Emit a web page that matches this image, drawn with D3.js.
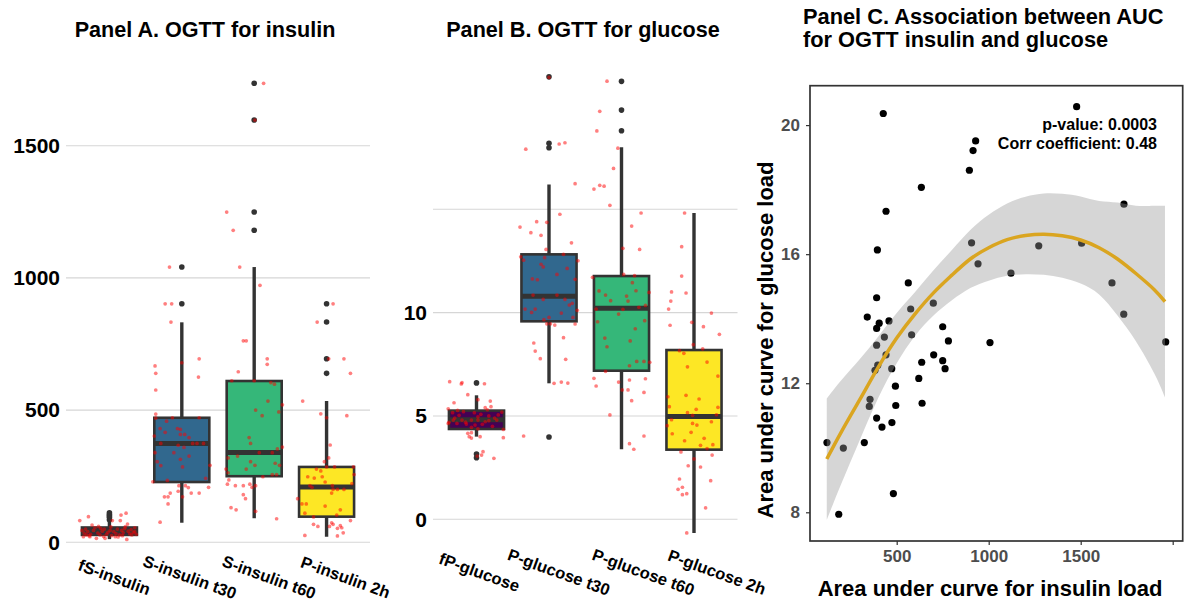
<!DOCTYPE html>
<html>
<head>
<meta charset="utf-8">
<script src="https://cdn.jsdelivr.net/npm/d3@7"></script>
<style>
  body { margin: 0; background: #fff; }
  svg text { font-family: "Liberation Sans", Arial, sans-serif; font-weight: bold; }
</style>
</head>
<body>
<svg id="chart"></svg>
<script>
const width = 1191, height = 603;

// ---------- Panel A: OGTT insulin ----------
const insulinGroups = ["fS-insulin", "S-insulin t30", "S-insulin t60", "P-insulin 2h"];
// [lower whisker, q1, median, q3, upper whisker]
const insulinBox = [
  [12, 28, 43, 56, 78],
  [74, 228, 374, 471, 832],
  [91, 250, 340, 610, 1041],
  [21, 97, 209, 285, 534]
];
const insulinOutliers = [
  [85, 95, 100, 105, 112],
  [902, 1041],
  [1180, 1249, 1597, 1736],
  [639, 694, 833, 902]
];
// jittered raw values: [offset in band steps, value]
const insulinPoints = [
  [[-0.41,82],[-0.29,97],[-0.24,65],[0.16,103],[0.23,110],[0.04,82],[0.15,82],[0.25,69],[0.22,59],
   [-0.36,21],[-0.27,21],[-0.18,15],[-0.06,15],[0.08,21],[0.24,11],[0.31,28],[0.35,40],[-0.12,53],
   [-0.38,45],[-0.35,35],[-0.33,50],[-0.3,40],[-0.26,30],[-0.22,45],[-0.2,55],[-0.16,35],[-0.13,28],
   [-0.1,42],[-0.07,50],[-0.04,30],[-0.02,38],[0.01,45],[0.03,25],[0.06,40],[0.09,33],[0.11,50],
   [0.14,28],[0.17,45],[0.19,36],[0.21,52],[0.26,42],[0.28,32],[0.3,48],[0.33,38],[0.37,30],
   [-0.28,25],[-0.08,22],[0.12,20],[0.02,58],[-0.15,60],[0.18,25],[-0.32,28],[0.35,55]],
  [[-0.37,667],[-0.36,639],[-0.36,576],[0,679],[0.24,694],[0.23,625],[-0.36,485],[-0.36,470],[-0.13,471],
   [0.24,471],[-0.3,430],[-0.21,458],[-0.23,416],[-0.06,430],[-0.02,427],[-0.02,408],[0.04,408],[0.1,396],
   [-0.38,402],[-0.29,374],[-0.05,367],[0.03,359],[0.15,374],[0.21,374],[0.3,374],[-0.37,339],[-0.11,339],
   [0.1,326],[-0.34,305],[-0.02,314],[-0.29,290],[0.01,285],[0.39,291],[-0.4,229],[-0.2,234],[0.33,242],
   [-0.04,214],[0.05,214],[0.09,207],[0.37,208],[-0.16,186],[-0.05,193],[0.13,186],[0.24,186],[-0.24,172],
   [-0.19,172],[0.01,172],[-0.19,145],[-0.3,76],[-0.17,1041],[-0.23,902],[-0.14,902],[-0.15,833]],
  [[-0.15,762],[-0.11,762],[0.18,694],[0.18,673],[-0.22,645],[-0.31,611],[0,611],[0.23,604],[0.28,598],
   [0.19,534],[0.39,520],[0.02,500],[0.34,493],[0.11,479],[-0.07,396],[-0.05,374],[0.32,353],[0.39,360],
   [-0.23,326],[0.07,339],[0.25,339],[-0.36,319],[-0.05,305],[0.01,291],[0.29,299],[0.35,291],[-0.39,277],
   [-0.11,277],[-0.36,263],[0.25,256],[0.31,256],[0.12,248],[-0.35,236],[-0.37,220],[-0.26,214],[-0.15,214],
   [-0.06,220],[-0.03,208],[0.02,214],[-0.15,180],[-0.12,165],[-0.32,131],[-0.25,123],[0.02,117],[0.31,89],
   [-0.38,1249],[-0.29,1180],[-0.2,1041],[0.08,972],[0.13,1736],[0.01,1597]],
  [[0.03,694],[0.24,694],[0.33,639],[-0.33,534],[-0.08,486],[0,471],[0.28,479],[0.05,368],[0.03,319],
   [-0.03,305],[0,285],[0.11,285],[0.37,285],[-0.14,277],[-0.08,270],[0.38,256],[-0.26,248],[-0.17,243],
   [-0.06,248],[-0.02,228],[0.35,222],[-0.23,214],[-0.2,208],[0.08,214],[0.09,200],[0.15,200],[0.24,200],
   [0.07,186],[-0.4,165],[-0.34,145],[-0.28,145],[-0.02,137],[0.19,123],[-0.3,110],[-0.18,96],[0.14,103],
   [0.33,82],[-0.18,68],[-0.12,60],[0.07,74],[0.09,68],[0.04,60],[0.19,63],[0.21,55],[0.15,53],[0.23,36],
   [-0.3,26],[0.15,24],[0.09,902],[-0.13,833]]
];
const insulinGrid = [0, 500, 1000, 1500];
const insulinTicks = [0, 500, 1000, 1500];

// ---------- Panel B: OGTT glucose ----------
const glucoseGroups = ["fP-glucose", "P-glucose t30", "P-glucose t60", "P-glucose 2h"];
const glucoseBox = [
  [4.0, 4.37, 4.82, 5.26, 6.0],
  [6.58, 9.58, 10.79, 12.82, 16.2],
  [3.39, 7.19, 10.21, 11.77, 18.0],
  [-0.66, 3.37, 4.98, 8.19, 14.82]
];
const glucoseOutliers = [
  [6.6, 3.16, 2.98],
  [21.41, 18.19, 17.98, 3.98],
  [21.19, 19.8, 18.8],
  []
];
const glucosePoints = [
  [[-0.37,6.66],[-0.21,6.55],[-0.2,6.61],[0.11,6.56],[-0.12,6.03],[-0.31,5.64],[0.02,5.79],[0.19,5.72],
   [0.12,5.4],[0.2,5.45],[0.15,5.3],[-0.39,5.35],[-0.26,5.27],[-0.18,5.21],[-0.33,5.16],[-0.24,5.03],
   [-0.03,5.16],[0.06,5.08],[0.02,4.96],[0.17,5.0],[0.35,5.19],[-0.32,4.8],[-0.2,4.8],[-0.07,4.8],[0.02,4.8],
   [0.12,4.72],[0.17,4.77],[0.28,4.8],[-0.39,4.64],[-0.27,4.64],[-0.14,4.61],[-0.38,4.69],[-0.02,4.56],
   [-0.07,4.45],[0.02,4.38],[0.37,4.35],[-0.12,4.16],[-0.07,4.19],[-0.1,4.0],[-0.07,3.93],[0.05,4.0],
   [0.37,3.95],[0.09,3.27],[0.07,3.11],[0.24,2.95],[0.01,3.06],[-0.3,4.9],[0.25,4.9],[0.3,5.05],
   [-0.15,4.7],[0.08,4.6],[0.22,4.5]],
  [[0,21.38],[-0.32,17.91],[0.14,18.16],[0.22,18.22],[0.36,16.24],[0.15,14.76],[-0.4,14.14],[-0.17,14.4],
   [-0.03,14.37],[-0.25,13.87],[-0.11,13.74],[0.31,13.38],[-0.04,13.06],[0.2,12.82],[-0.39,12.7],[-0.06,12.66],
   [-0.35,12.54],[0.4,12.51],[-0.11,12.34],[-0.08,12.21],[0.25,12.14],[0.11,11.85],[-0.23,11.63],[-0.16,11.59],
   [0.36,11.61],[-0.22,10.85],[0.11,10.85],[-0.08,10.64],[0.22,10.64],[-0.33,10.17],[-0.19,10.17],[-0.24,10.01],
   [0.17,9.98],[0.28,10.37],[0.32,10.45],[0.39,10.11],[0,9.77],[-0.07,9.66],[0.33,9.77],[-0.03,9.46],[0.02,9.46],
   [0.08,9.4],[0.36,9.45],[-0.21,8.53],[0.2,8.79],[-0.19,8.14],[-0.12,7.77],[0.23,7.74],[0.07,6.58],[0.17,6.64],
   [0.26,6.59],[-0.35,4.03]],
  [[-0.2,21.2],[-0.3,19.74],[-0.34,18.79],[-0.05,17.96],[-0.11,16.98],[-0.38,15.98],[-0.3,16.16],[-0.24,16.12],
   [-0.16,15.19],[0.27,14.82],[0.14,14.19],[0.02,13.11],[0.25,13.06],[0.03,11.85],[0.18,11.79],[-0.4,11.71],
   [0.15,11.45],[-0.31,11.05],[0.2,11.06],[0.38,10.98],[-0.22,10.85],[0.07,10.8],[0.09,10.56],[-0.15,10.58],
   [0.33,10.35],[-0.35,10.17],[0.02,10.16],[0.24,10.26],[-0.04,9.93],[-0.33,9.56],[0.32,9.61],[0.19,9.22],
   [-0.23,8.77],[0.12,8.63],[-0.2,8.35],[0.21,7.64],[0.31,7.64],[0.39,7.6],[0.11,7.43],[-0.22,7.16],
   [-0.38,6.82],[0.11,6.74],[0.33,6.8],[-0.35,6.45],[-0.04,6.64],[0.01,6.26],[0.09,6.26],[0.31,6.14],
   [0.14,5.74],[-0.16,5.05],[0.31,4.03],[0.11,3.66],[0.17,3.39]],
  [[-0.13,14.82],[-0.17,13.19],[-0.17,11.77],[-0.31,11.0],[-0.11,10.95],[-0.32,10.56],[-0.35,10.17],[0.24,9.98],
   [-0.03,9.53],[0.13,9.32],[-0.33,9.39],[0.35,8.95],[-0.01,8.45],[0.12,8.25],[-0.2,8.16],[-0.14,8.03],
   [0.18,7.61],[-0.09,7.38],[0.33,6.93],[-0.36,5.93],[-0.11,6.0],[0.07,5.82],[-0.34,5.45],[0.03,5.32],
   [0.33,5.42],[-0.09,5.16],[-0.02,5.03],[0.31,5.06],[-0.31,4.82],[-0.37,4.53],[-0.02,4.64],[0.04,4.56],
   [0.24,4.72],[-0.3,4.14],[-0.04,4.21],[0.14,3.92],[-0.13,3.8],[0.09,3.58],[0.26,3.61],[0.18,3.42],
   [-0.18,3.26],[0.25,3.11],[0,2.92],[-0.08,2.59],[0.09,2.53],[-0.2,1.95],[0.23,1.87],[-0.16,1.55],
   [-0.22,1.45],[-0.1,1.24],[-0.16,1.19],[0.16,0.55],[-0.1,-0.66]]
];
const glucoseGrid = [0, 5, 10, 15];
const glucoseTicks = [0, 5, 10];

// ---------- Panel C: AUC association ----------
const aucInsulin = [427,1478,929,915,895,634,442,1735,395,907,1272,1505,942,1121,1670,563,391,576,699,1734,
  340,405,391,458,750,433,581,781,391,1007,1962,442,701,636,750,397,382,473,763,620,493,355,351,495,638,
  391,474,420,121,324,210,482,185];
const aucGlucose = [20.36,20.57,19.51,19.21,18.6,18.07,17.33,17.55,16.13,16.35,16.26,16.34,15.7,15.41,15.11,15.11,
  14.65,14.3,14.48,14.14,14.05,13.86,13.7,13.93,13.75,13.43,13.5,13.31,13.18,13.26,13.28,12.88,12.88,12.65,12.7,
  12.56,12.4,12.45,12.45,12.15,11.91,11.5,11.28,11.31,11.38,10.92,10.78,10.64,10.16,10.16,9.99,8.58,7.94];
// smoothed fit with confidence band
const fitX  = [120,200,300,400,500,600,700,800,900,1000,1100,1200,1300,1400,1500,1600,1700,1800,1900,1958];
const fitY  = [9.65,10.5,11.5,12.5,13.4,14.15,14.8,15.35,15.85,16.2,16.45,16.58,16.62,16.57,16.44,16.2,15.85,15.4,14.9,14.53];
const fitLo = [7.77,8.9,10.25,11.55,12.62,13.47,14.1,14.57,14.95,15.18,15.33,15.38,15.36,15.27,15.09,14.75,14.1,13.3,12.3,11.56];
const fitHi = [11.53,12.1,12.75,13.45,14.18,14.83,15.5,16.13,16.75,17.22,17.57,17.78,17.88,17.87,17.79,17.65,17.6,17.5,17.5,17.5];
const aucXTicks = [500, 1000, 1500, 2000];
const aucYTicks = [8, 12, 16, 20];

const boxColors = ["#440154", "#31688E", "#35B779", "#FDE725"];

const svg = d3.select("#chart")
  .attr("width", width)
  .attr("height", height)
  .style("background", "#fff");

const font = "Liberation Sans, Arial, sans-serif";

// Boxplot panel helper (A and B share the layout)
function boxPanel(opt) {
  const g = svg.append("g");
  const x = opt.x, y = opt.y;
  const step = x.step();
  const bw = step * 0.76;
  const [x0, x1] = x.range();

  // gridlines
  g.selectAll("line.grid")
    .data(opt.grid)
    .join("line")
    .attr("class", "grid")
    .attr("x1", x0).attr("x2", x1)
    .attr("y1", d => y(d)).attr("y2", d => y(d))
    .attr("stroke", "#d6d6d6")
    .attr("stroke-width", 1.1);

  // y tick labels
  g.append("g")
    .attr("transform", `translate(${x0},0)`)
    .call(d3.axisLeft(y).tickValues(opt.ticks).tickSize(0).tickPadding(6).tickFormat(d3.format("d")))
    .call(a => a.select(".domain").remove())
    .attr("font-family", font)
    .attr("font-size", 21)
    .attr("font-weight", "bold")
    .style("color", "#000");

  // boxes
  const grp = g.selectAll("g.box")
    .data(opt.groups.map((name, i) => ({ name, i, s: opt.box[i], out: opt.outliers[i] })))
    .join("g")
    .attr("class", "box");

  grp.append("line")
    .attr("x1", d => x(d.name)).attr("x2", d => x(d.name))
    .attr("y1", d => y(d.s[0])).attr("y2", d => y(d.s[4]))
    .attr("stroke", "#333").attr("stroke-width", 3.4);

  grp.append("rect")
    .attr("x", d => x(d.name) - bw / 2)
    .attr("y", d => y(d.s[3]))
    .attr("width", bw)
    .attr("height", d => y(d.s[1]) - y(d.s[3]))
    .attr("fill", d => boxColors[d.i])
    .attr("stroke", "#333")
    .attr("stroke-width", 2.6);

  grp.append("line")
    .attr("x1", d => x(d.name) - bw / 2).attr("x2", d => x(d.name) + bw / 2)
    .attr("y1", d => y(d.s[2])).attr("y2", d => y(d.s[2]))
    .attr("stroke", "#333").attr("stroke-width", 5);

  grp.selectAll("circle.out")
    .data(d => d.out.map(v => ({ name: d.name, v })))
    .join("circle")
    .attr("class", "out")
    .attr("cx", d => x(d.name))
    .attr("cy", d => y(d.v))
    .attr("r", 2.8)
    .attr("fill", "#333");

  // jittered raw points on top
  const pts = [];
  opt.points.forEach((arr, i) => arr.forEach(p => pts.push({ name: opt.groups[i], dx: p[0], v: p[1] })));
  g.selectAll("circle.pt")
    .data(pts)
    .join("circle")
    .attr("class", "pt")
    .attr("cx", d => x(d.name) + d.dx * step)
    .attr("cy", d => y(d.v))
    .attr("r", 1.85)
    .attr("fill", "red")
    .attr("fill-opacity", 0.5);

  // category labels, slanted
  g.selectAll("text.cat")
    .data(opt.groups)
    .join("text")
    .attr("class", "cat")
    .attr("transform", (d, i) => `translate(${x(d) + opt.nudge[i]},${opt.labelY}) rotate(20)`)
    .attr("text-anchor", "middle")
    .attr("dominant-baseline", "central")
    .attr("font-size", 16.5)
    .attr("fill", "#000")
    .text(d => d);

  // title
  g.append("text")
    .attr("x", opt.titleX)
    .attr("y", 37)
    .attr("text-anchor", "middle")
    .attr("font-size", 21.6)
    .attr("fill", "#000")
    .text(opt.title);
}

const xA = d3.scalePoint().domain(insulinGroups).range([66, 370]).padding(0.6);
const yA = d3.scaleLinear().domain([0, 1500]).range([542.3, 145.7]);
boxPanel({
  x: xA, y: yA, groups: insulinGroups, box: insulinBox, outliers: insulinOutliers,
  points: insulinPoints, grid: insulinGrid, ticks: insulinTicks,
  nudge: [5, 8, 15, 19], labelY: 577,
  title: "Panel A. OGTT for insulin", titleX: 205
});

const xB = d3.scalePoint().domain(glucoseGroups).range([433, 737.5]).padding(0.6);
const yB = d3.scaleLinear().domain([0, 15]).range([519.3, 209.3]);
boxPanel({
  x: xB, y: yB, groups: glucoseGroups, box: glucoseBox, outliers: glucoseOutliers,
  points: glucosePoints, grid: glucoseGrid, ticks: glucoseTicks,
  nudge: [3, 10, 22, 23], labelY: 572,
  title: "Panel B. OGTT for glucose", titleX: 583
});

// ---------- Panel C ----------
const xC = d3.scaleLinear().domain([500, 1500]).range([896.7, 1080.7]);
const yC = d3.scaleLinear().domain([8, 20]).range([512.3, 125.1]);
const pc = { left: 810, right: 1182.7, top: 85.7, bottom: 541 };
const gc = svg.append("g");

gc.selectAll("circle.auc")
  .data(aucInsulin.map((v, i) => [v, aucGlucose[i]]))
  .join("circle")
  .attr("class", "auc")
  .attr("cx", d => xC(d[0]))
  .attr("cy", d => yC(d[1]))
  .attr("r", 3.6)
  .attr("fill", "#000");

const band = fitX.map((v, i) => ({ x: v, y: fitY[i], lo: fitLo[i], hi: fitHi[i] }));
gc.append("path")
  .datum(band)
  .attr("d", d3.area().x(d => xC(d.x)).y0(d => yC(d.lo)).y1(d => yC(d.hi)).curve(d3.curveNatural))
  .attr("fill", "#999")
  .attr("fill-opacity", 0.4);

gc.append("path")
  .datum(band)
  .attr("d", d3.line().x(d => xC(d.x)).y(d => yC(d.y)).curve(d3.curveNatural))
  .attr("fill", "none")
  .attr("stroke", "#DAA520")
  .attr("stroke-width", 3.5);

gc.append("rect")
  .attr("x", pc.left).attr("y", pc.top)
  .attr("width", pc.right - pc.left).attr("height", pc.bottom - pc.top)
  .attr("fill", "none")
  .attr("stroke", "#333")
  .attr("stroke-width", 1.7);

function styleAxis(a) {
  a.select(".domain").remove();
  a.selectAll(".tick line").attr("stroke", "#333").attr("stroke-width", 1.2);
  a.selectAll(".tick text").attr("fill", "#4D4D4D");
  a.attr("font-family", font).attr("font-size", 17).attr("font-weight", "bold");
}

gc.append("g")
  .attr("transform", `translate(${pc.left},0)`)
  .call(d3.axisLeft(yC).tickValues(aucYTicks).tickSize(4).tickPadding(6))
  .call(styleAxis);

gc.append("g")
  .attr("transform", `translate(0,${pc.bottom})`)
  .call(d3.axisBottom(xC).tickValues(aucXTicks).tickSize(4).tickPadding(5)
    .tickFormat(d => d === 2000 ? "" : d))
  .call(styleAxis);

// stats annotation
gc.append("text")
  .attr("x", 1157).attr("y", 130)
  .attr("text-anchor", "end").attr("font-size", 16).attr("fill", "#000")
  .text("p-value: 0.0003");
gc.append("text")
  .attr("x", 1157).attr("y", 148.5)
  .attr("text-anchor", "end").attr("font-size", 16).attr("fill", "#000")
  .text("Corr coefficient: 0.48");

// axis titles
gc.append("text")
  .attr("x", 990).attr("y", 596)
  .attr("text-anchor", "middle").attr("font-size", 22).attr("fill", "#000")
  .text("Area under curve for insulin load");
gc.append("text")
  .attr("transform", "translate(773,340) rotate(-90)")
  .attr("text-anchor", "middle").attr("font-size", 22).attr("fill", "#000")
  .text("Area under curve for glucose load");

// panel C title, two lines
gc.append("text")
  .attr("x", 803).attr("y", 24)
  .attr("font-size", 21.8).attr("fill", "#000")
  .text("Panel C. Association between AUC");
gc.append("text")
  .attr("x", 803).attr("y", 47)
  .attr("font-size", 21.8).attr("fill", "#000")
  .text("for OGTT insulin and glucose");
</script>
</body>
</html>
